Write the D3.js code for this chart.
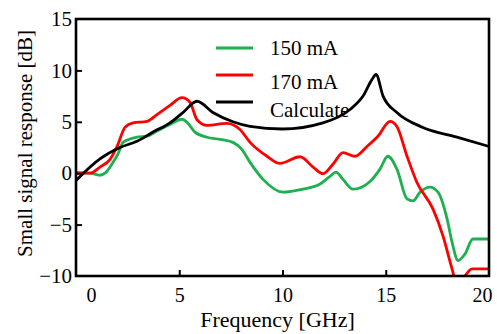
<!DOCTYPE html>
<html>
<head>
<meta charset="utf-8">
<script src="https://cdn.jsdelivr.net/npm/d3@7"></script>
<style>
  body { margin: 0; background: #fff; }
</style>
</head>
<body>
<div id="chart"></div>
<script>
// readings from the figure: frequency [GHz] and response [dB]
const freq150 = [0, 0.68, 1.16, 1.4, 1.79, 2.03, 2.28, 2.95, 3.44, 3.92, 4.55, 5.13, 5.38, 5.76, 6.34, 6.97, 7.6, 8.04, 8.43, 9.06, 10.02, 10.99, 11.82, 12.3, 12.59, 12.93, 13.41, 14.24, 14.72, 15.1, 15.54, 16.03, 16.32, 16.66, 17.14, 17.53, 17.97, 18.21, 18.5, 18.84, 19.22, 20];
const resp150 = [0.05, 0, -0.2, 0, 1.05, 1.85, 3.0, 3.5, 3.6, 4.1, 4.75, 5.25, 4.95, 4.0, 3.5, 3.3, 3.0, 2.3, 1.05, -0.6, -1.85, -1.55, -1.05, -0.3, 0.1, -0.6, -1.55, -0.8, 0.4, 1.65, 0.4, -2.5, -2.7, -1.85, -1.35, -1.85, -4.45, -6.7, -8.5, -7.85, -6.4, -6.4];

const freq170 = [0, 0.68, 1.16, 1.65, 1.99, 2.37, 2.76, 3.44, 3.92, 4.55, 5.13, 5.52, 5.86, 6.34, 7.31, 7.94, 8.43, 9.25, 9.88, 10.85, 11.48, 11.96, 12.45, 12.93, 13.51, 14.09, 14.62, 15.21, 15.54, 16.03, 16.51, 17.29, 17.77, 18.21, 18.5, 18.84, 19.18, 20];
const resp170 = [0, 0, 0.6, 1.35, 2.6, 4.45, 4.9, 5.05, 5.7, 6.6, 7.35, 6.9, 5.2, 4.65, 4.85, 4.25, 3.0, 1.65, 0.95, 1.6, 0.6, -0.05, 0.9, 2.0, 1.65, 2.6, 3.6, 5.05, 4.55, 1.65, -0.9, -3.5, -6.1, -9.3, -11.2, -10.0, -9.3, -9.3];

const freqCalc = [0, 1.16, 2.13, 2.95, 3.73, 4.55, 5.18, 5.86, 6.63, 7.6, 8.43, 10.0, 11.96, 13.27, 13.9, 14.33, 14.53, 14.87, 15.54, 16.8, 18.45, 20];
const respCalc = [-0.7, 1.4, 2.5, 3.1, 4.0, 4.9, 5.9, 7.0, 5.9, 5.0, 4.55, 4.3, 4.9, 6.2, 7.5, 9.1, 9.6, 7.5, 5.9, 4.45, 3.5, 2.6];

const seriesNames = ['150 mA', '170 mA', 'Calculate'];
const seriesColors = ['#1db04e', '#ff0000', '#000000'];
const xTicks = [0, 5, 10, 15, 20];
const yTicks = [-10, -5, 0, 5, 10, 15];

const font = '"Liberation Serif", "DejaVu Serif", serif';
const width = 497, height = 334;
const margin = {top: 19, right: 8, bottom: 58, left: 76};

const svg = d3.select('#chart').append('svg')
  .attr('width', width)
  .attr('height', height);

const x = d3.scaleLinear().domain([0, 20]).range([margin.left, width - margin.right]);
const y = d3.scaleLinear().domain([-10, 15]).range([height - margin.bottom, margin.top]);

svg.append('clipPath').attr('id', 'plot-clip')
  .append('rect')
  .attr('x', x(0)).attr('y', y(15))
  .attr('width', x(20) - x(0)).attr('height', y(-10) - y(15));

const series = [
  d3.zip(freq150, resp150),
  d3.zip(freq170, resp170),
  d3.zip(freqCalc, respCalc)
];

const line = d3.line()
  .x(d => x(d[0]))
  .y(d => y(d[1]))
  .curve(d3.curveMonotoneX);

const plot = svg.append('g').attr('clip-path', 'url(#plot-clip)');
series.forEach((s, i) => {
  plot.append('path')
    .datum(s)
    .attr('fill', 'none')
    .attr('stroke', seriesColors[i])
    .attr('stroke-width', 2.8)
    .attr('stroke-linejoin', 'round')
    .attr('d', line);
});

// frame
svg.append('rect')
  .attr('x', x(0)).attr('y', y(15))
  .attr('width', x(20) - x(0)).attr('height', y(-10) - y(15))
  .attr('fill', 'none')
  .attr('stroke', '#000')
  .attr('stroke-width', 2.6);

// axes, ticks pointing into the plot
const xAxis = svg.append('g')
  .attr('transform', `translate(0, ${y(-10)})`)
  .call(d3.axisBottom(x).tickValues(xTicks).tickSize(-6).tickPadding(12).tickFormat(d3.format('d')));
xAxis.attr('font-family', font).attr('font-size', 20);
xAxis.select('.domain').remove();
xAxis.selectAll('.tick line').attr('stroke', '#000').attr('stroke-width', 2);
xAxis.selectAll('.tick text').attr('fill', '#000');
// first and last labels sit a bit off their ticks in the original
xAxis.selectAll('.tick text').filter(d => d === 0).attr('dx', 15);
xAxis.selectAll('.tick text').filter(d => d === 20).attr('dx', -7);
xAxis.selectAll('.tick').filter(d => d === 0 || d === 20).select('line').remove();

const yAxis = svg.append('g')
  .attr('transform', `translate(${x(0)}, 0)`)
  .call(d3.axisLeft(y).tickValues(yTicks).tickSize(-6).tickPadding(4).tickFormat(d3.format('d')));
yAxis.attr('font-family', font).attr('font-size', 21);
yAxis.select('.domain').remove();
yAxis.selectAll('.tick line').attr('stroke', '#000').attr('stroke-width', 2);
yAxis.selectAll('.tick text').attr('fill', '#000');
yAxis.selectAll('.tick').filter(d => d === -10 || d === 15).select('line').remove();

svg.append('text')
  .attr('x', (x(0) + x(20)) / 2 - 5)
  .attr('y', 327)
  .attr('text-anchor', 'middle')
  .attr('font-family', font)
  .attr('font-size', 22)
  .text('Frequency [GHz]');

svg.append('text')
  .attr('transform', `translate(32, ${(y(-10) + y(15)) / 2 - 4}) rotate(-90)`)
  .attr('text-anchor', 'middle')
  .attr('font-family', font)
  .attr('font-size', 21)
  .text('Small signal response [dB]');

// legend
const legendY = [48, 75, 102];
const legendTextY = [55, 89, 117];
const legend = svg.append('g');
seriesNames.forEach((name, i) => {
  legend.append('line')
    .attr('x1', 216).attr('x2', 253)
    .attr('y1', legendY[i]).attr('y2', legendY[i])
    .attr('stroke', seriesColors[i])
    .attr('stroke-width', 2.8);
  legend.append('text')
    .attr('x', 270)
    .attr('y', legendTextY[i])
    .attr('font-family', font)
    .attr('font-size', 21)
    .text(name);
});
</script>
</body>
</html>
